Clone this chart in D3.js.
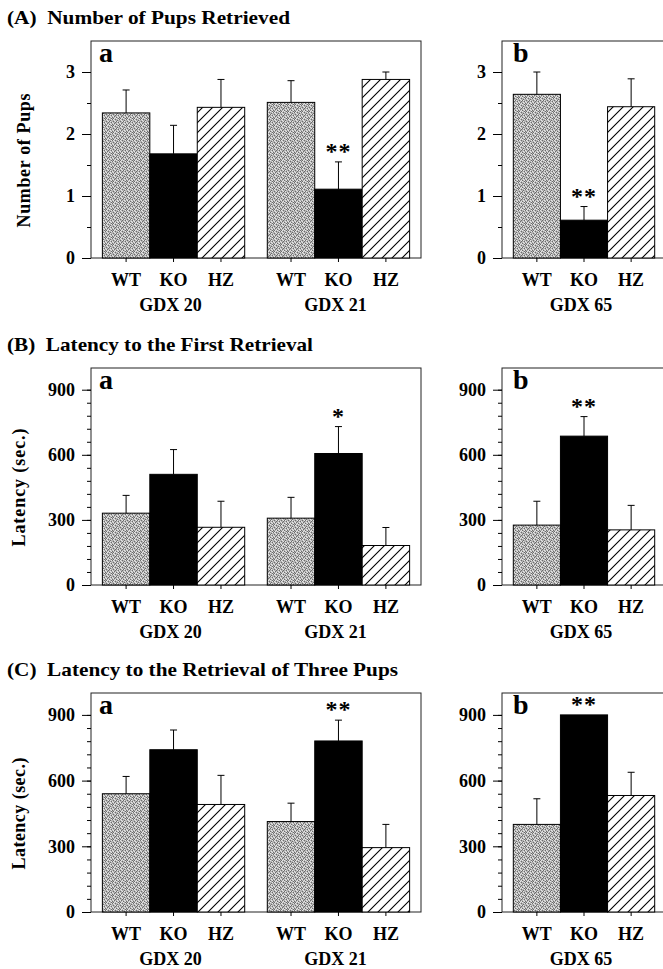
<!DOCTYPE html>
<html>
<head>
<meta charset="utf-8">
<script src="https://cdn.jsdelivr.net/npm/d3@7"></script>
<style>
  body { margin: 0; background: #fff; }
  svg { display: block; }
  text { font-family: "Liberation Serif", "Times New Roman", serif; font-weight: bold; fill: #000; }
</style>
</head>
<body>
<svg id="chart" width="663" height="969"></svg>
<script>
// data: rows = GDX 20, GDX 21, GDX 65 ; columns = WT, KO, HZ
const genotypes = ["WT", "KO", "HZ"];
const groupsLeft = ["GDX 20", "GDX 21"];
const groupsRight = ["GDX 65"];

const pupsMean = [[2.34, 1.68, 2.43], [2.51, 1.11, 2.88], [2.64, 0.61, 2.44]];
const pupsSem = [[0.37, 0.46, 0.45], [0.35, 0.44, 0.12], [0.36, 0.22, 0.45]];
const pupsStars = [["", "", ""], ["", "**", ""], ["", "**", ""]];

const firstMean = [[331, 510, 266], [308, 606, 182], [276, 686, 254]];
const firstSem = [[82, 114, 120], [96, 124, 83], [110, 90, 113]];
const firstStars = [["", "", ""], ["", "*", ""], ["", "**", ""]];

const threeMean = [[540, 741, 491], [413, 781, 294], [400, 900, 532]];
const threeSem = [[79, 90, 133], [84, 95, 106], [117, 0, 106]];
const threeStars = [["", "", ""], ["", "**", ""], ["", "**", ""]];

const pupsTicks = [0, 1, 2, 3];
const latencyTicks = [0, 300, 600, 900];

const titles = ["(A)  Number of Pups Retrieved", "(B)  Latency to the First Retrieval", "(C)  Latency to the Retrieval of Three Pups"];
const yTitles = ["Number of Pups", "Latency (sec.)", "Latency (sec.)"];

const svg = d3.select("#chart");
const defs = svg.append("defs");

// gray stipple for WT: scattered dark/light dots on mid gray
const stip = defs.append("pattern").attr("id", "stipple")
  .attr("patternUnits", "userSpaceOnUse").attr("width", 7).attr("height", 7);
stip.append("rect").attr("width", 7).attr("height", 7).attr("fill", "#b4b4b4");
const darkDots = [[0,0],[3,0],[5,1],[1,2],[4,2],[6,3],[2,4],[0,5],[4,5],[1,6],[6,6],[3,3]];
const lightDots = [[1,0],[6,0],[2,1],[3,2],[0,3],[5,4],[1,4],[3,5],[6,5],[4,6],[2,6],[5,2]];
darkDots.forEach(d => stip.append("rect").attr("x", d[0]).attr("y", d[1]).attr("width", 1).attr("height", 1).attr("fill", "#6c6c6c"));
lightDots.forEach(d => stip.append("rect").attr("x", d[0]).attr("y", d[1]).attr("width", 1).attr("height", 1).attr("fill", "#e6e6e6"));

// diagonal hatch for HZ
const hatch = defs.append("pattern").attr("id", "hatch")
  .attr("patternUnits", "userSpaceOnUse").attr("width", 10).attr("height", 10);
hatch.append("rect").attr("width", 10).attr("height", 10).attr("fill", "#fff");
hatch.append("path").attr("d", "M-1,11 L11,-1 M-1,1 L1,-1 M9,11 L11,9")
  .attr("stroke", "#000").attr("stroke-width", 1.1);

const fills = { WT: "url(#stipple)", KO: "#000", HZ: "url(#hatch)" };

const rows = [
  { title: titles[0], ytitle: yTitles[0], mean: pupsMean, sem: pupsSem, stars: pupsStars, max: 3.5, ticks: pupsTicks, minor: 0.5, top: 41, base: 258, tw: 283, yx: 30, yl: 134, ydy: 11 },
  { title: titles[1], ytitle: yTitles[1], mean: firstMean, sem: firstSem, stars: firstStars, max: 1000, ticks: latencyTicks, minor: 60, top: 368, base: 585, tw: 306, yx: 25, yl: 118, ydy: 11 },
  { title: titles[2], ytitle: yTitles[2], mean: threeMean, sem: threeSem, stars: threeStars, max: 1000, ticks: latencyTicks, minor: 60, top: 693, base: 912, tw: 391, yx: 25, yl: 112, ydy: 11 }
];

rows.forEach(row => {
  svg.append("text")
    .attr("x", 7).attr("y", row.top - 17)
    .attr("textLength", row.tw).attr("lengthAdjust", "spacingAndGlyphs")
    .style("white-space", "pre")
    .style("font-size", "19px")
    .text(row.title);

  svg.append("text")
    .attr("transform", `translate(${row.yx},${(row.top + row.base) / 2 + row.ydy}) rotate(-90)`)
    .attr("text-anchor", "middle")
    .attr("textLength", row.yl)
    .style("font-size", "18px")
    .text(row.ytitle);

  const y = d3.scaleLinear().domain([0, row.max]).range([row.base, row.top]);
  const minorVals = d3.range(0, row.ticks[row.ticks.length - 1] + 1e-9, row.minor);

  const panels = [
    { letter: "a", groups: groupsLeft, idx: [0, 1], x0: 91, x1: 421, lx: 8 },
    { letter: "b", groups: groupsRight, idx: [2], x0: 502, x1: 666, lx: 11 }
  ];

  panels.forEach(p => {
    const g = svg.append("g");
    const outer = d3.scaleBand().domain(p.groups).range([p.x0, p.x1])
      .paddingInner(0.137).paddingOuter(0.069);
    const inner = d3.scaleBand().domain(genotypes).range([0, outer.bandwidth()]);

    // frame
    g.append("rect")
      .attr("x", p.x0).attr("y", row.top)
      .attr("width", p.x1 - p.x0).attr("height", row.base - row.top)
      .attr("fill", "none").attr("stroke", "#222").attr("stroke-width", 1);

    const data = [];
    p.groups.forEach((grp, gi) => {
      genotypes.forEach((gt, k) => {
        const i = p.idx[gi];
        data.push({ grp, gt, mean: row.mean[i][k], sem: row.sem[i][k], star: row.stars[i][k] });
      });
    });
    const cx = d => outer(d.grp) + inner(d.gt) + inner.bandwidth() / 2;

    g.selectAll("rect.bar").data(data).join("rect").attr("class", "bar")
      .attr("x", d => outer(d.grp) + inner(d.gt))
      .attr("y", d => y(d.mean))
      .attr("width", inner.bandwidth())
      .attr("height", d => y(0) - y(d.mean))
      .attr("fill", d => fills[d.gt])
      .attr("stroke", "#000").attr("stroke-width", 1);

    const eb = data.filter(d => d.sem > 0);
    g.selectAll("line.err").data(eb).join("line").attr("class", "err")
      .attr("x1", cx).attr("x2", cx)
      .attr("y1", d => y(d.mean)).attr("y2", d => y(d.mean + d.sem))
      .attr("stroke", "#000").attr("stroke-width", 1);
    g.selectAll("line.cap").data(eb).join("line").attr("class", "cap")
      .attr("x1", d => cx(d) - 3.5).attr("x2", d => cx(d) + 3.5)
      .attr("y1", d => y(d.mean + d.sem)).attr("y2", d => y(d.mean + d.sem))
      .attr("stroke", "#000").attr("stroke-width", 1);

    g.selectAll("text.star").data(data.filter(d => d.star)).join("text").attr("class", "star")
      .attr("x", cx).attr("y", d => y(d.mean + d.sem) - 3)
      .attr("text-anchor", "middle")
      .style("font-size", "24px")
      .style("letter-spacing", "1px")
      .text(d => d.star);

    // y axis: minor then major ticks
    g.append("g").attr("transform", `translate(${p.x0},0)`)
      .call(d3.axisLeft(y).tickValues(minorVals).tickSize(4).tickFormat(""))
      .call(a => a.select(".domain").remove());
    g.append("g").attr("transform", `translate(${p.x0},0)`)
      .call(d3.axisLeft(y).tickValues(row.ticks).tickSize(9).tickPadding(7).tickFormat(d3.format("d")))
      .call(a => a.select(".domain").remove())
      .call(a => a.selectAll("text").style("font-size", "18px"));

    // x ticks and labels
    g.selectAll("line.xt").data(data).join("line").attr("class", "xt")
      .attr("x1", cx).attr("x2", cx)
      .attr("y1", row.base).attr("y2", row.base + 4)
      .attr("stroke", "#000");
    g.selectAll("text.gt").data(data).join("text").attr("class", "gt")
      .attr("x", cx).attr("y", row.base + 28)
      .attr("text-anchor", "middle")
      .style("font-size", "18px")
      .text(d => d.gt);
    g.selectAll("text.grp").data(p.groups).join("text").attr("class", "grp")
      .attr("x", d => outer(d) + outer.bandwidth() / 2 - 3).attr("y", row.base + 53)
      .attr("text-anchor", "middle")
      .style("font-size", "18px")
      .text(d => d);

    g.append("text")
      .attr("x", p.x0 + p.lx).attr("y", row.top + 21)
      .style("font-size", "28px")
      .text(p.letter);
  });
});
</script>
</body>
</html>
